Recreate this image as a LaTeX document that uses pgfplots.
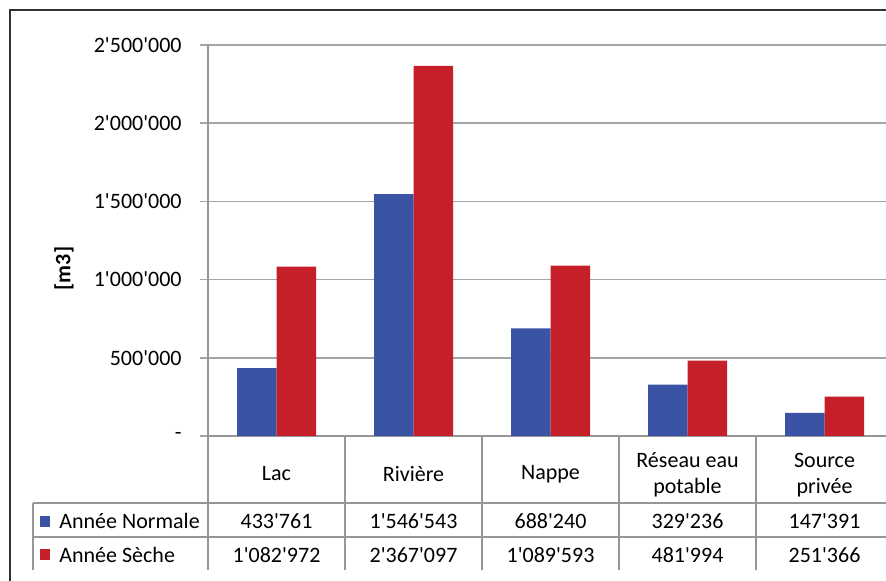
\documentclass[border=0pt]{standalone}
\usepackage{fontspec}
\newfontfamily\cf{Carlito}
\usepackage{pgfplots}
\pgfplotsset{compat=1.18}
\definecolor{bblue}{RGB}{58,83,165}
\definecolor{bred}{RGB}{197,32,41}
\definecolor{gridg}{RGB}{165,165,165}
\definecolor{tabg}{RGB}{150,150,150}
\definecolor{frameg}{RGB}{50,50,50}
\begin{document}
\begin{tikzpicture}[font=\cf\fontsize{11}{13}\selectfont]
\useasboundingbox (0,0) rectangle (443pt,290.5pt);
\clip (0,0) rectangle (443pt,290.5pt);
\draw[frameg, line width=1pt] (5pt,-20pt) -- (5pt,285.5pt) -- (470pt,285.5pt);
\begin{axis}[
  at={(104pt,72.5pt)}, anchor=south west,
  scale only axis, width=342.5pt, height=195.5pt,
  xmin=-0.5, xmax=4.5, ymin=0, ymax=2500000,
  clip=false, scaled y ticks=false,
  axis x line*=bottom, axis y line*=left,
  axis line style={tabg, line width=0.75pt},
  xtick=\empty,
  ytick={0,500000,1000000,1500000,2000000,2500000},
  yticklabels={-\hspace{5pt},500'000,1'000'000,1'500'000,2'000'000,2'500'000},
  tick align=outside, major tick length=4pt,
  tick style={gridg, line width=0.75pt},
  yticklabel style={inner sep=0pt, anchor=east, xshift=-9pt, font=\cf\fontsize{11}{13}\selectfont},
  ymajorgrids, grid style={gridg, line width=0.75pt},
  ybar=0pt, bar width=19.75pt,
]
\addplot[fill=bblue, draw=none] coordinates {(0,433761) (1,1546543) (2,688240) (3,329236) (4,147391)};
\addplot[fill=bred, draw=none] coordinates {(0,1082972) (1,2367097) (2,1089593) (3,481994) (4,251366)};
% table lines
\pgfplotsinvokeforeach{-0.5,0.5,1.5,2.5,3.5,4.5}{
  \draw[tabg, line width=0.75pt] (axis cs:#1,0) -- ([yshift=-67pt]axis cs:#1,0);
}
\draw[tabg, line width=0.75pt] ([xshift=-87.5pt,yshift=-33.5pt]axis cs:-0.5,0) -- ([yshift=-33.5pt]axis cs:4.5,0);
\draw[tabg, line width=0.75pt] ([xshift=-87.5pt,yshift=-50.5pt]axis cs:-0.5,0) -- ([yshift=-50.5pt]axis cs:4.5,0);
\draw[tabg, line width=0.75pt] ([xshift=-87.5pt,yshift=-33.5pt]axis cs:-0.5,0) -- ([xshift=-87.5pt,yshift=-67pt]axis cs:-0.5,0);
% headers
\node[inner sep=0pt] at ([yshift=-19pt]axis cs:0,0) {Lac};
\node[inner sep=0pt] at ([yshift=-19pt]axis cs:1,0) {Rivière};
\node[inner sep=0pt] at ([yshift=-19pt]axis cs:2,0) {Nappe};
\node[align=center, inner sep=0pt] at ([yshift=-19.5pt]axis cs:3,0) {Réseau eau\\potable};
\node[align=center, inner sep=0pt] at ([yshift=-19.5pt]axis cs:4,0) {Source\\privée};
% row 1
\node[inner sep=0pt] at ([yshift=-42.5pt]axis cs:0,0) {433'761};
\node[inner sep=0pt] at ([yshift=-42.5pt]axis cs:1,0) {1'546'543};
\node[inner sep=0pt] at ([yshift=-42.5pt]axis cs:2,0) {688'240};
\node[inner sep=0pt] at ([yshift=-42.5pt]axis cs:3,0) {329'236};
\node[inner sep=0pt] at ([yshift=-42.5pt]axis cs:4,0) {147'391};
% row 2
\node[inner sep=0pt] at ([yshift=-59.5pt]axis cs:0,0) {1'082'972};
\node[inner sep=0pt] at ([yshift=-59.5pt]axis cs:1,0) {2'367'097};
\node[inner sep=0pt] at ([yshift=-59.5pt]axis cs:2,0) {1'089'593};
\node[inner sep=0pt] at ([yshift=-59.5pt]axis cs:3,0) {481'994};
\node[inner sep=0pt] at ([yshift=-59.5pt]axis cs:4,0) {251'366};
% legend keys
\fill[bblue] ([xshift=-84pt,yshift=-40pt]axis cs:-0.5,0) rectangle ++(5pt,-5.5pt);
\fill[bred] ([xshift=-84pt,yshift=-56.5pt]axis cs:-0.5,0) rectangle ++(5pt,-5.5pt);
\node[anchor=west, inner sep=0pt] at ([xshift=-74.5pt,yshift=-42.5pt]axis cs:-0.5,0) {Année Normale};
\node[anchor=west, inner sep=0pt] at ([xshift=-74.5pt,yshift=-59.5pt]axis cs:-0.5,0) {Année Sèche};
% y label
\node[rotate=90, font=\cf\fontsize{11}{13}\selectfont\bfseries] at ([xshift=-72pt,yshift=-14pt]axis cs:-0.5,1250000) {[m3]};
\end{axis}
\end{tikzpicture}
\end{document}
